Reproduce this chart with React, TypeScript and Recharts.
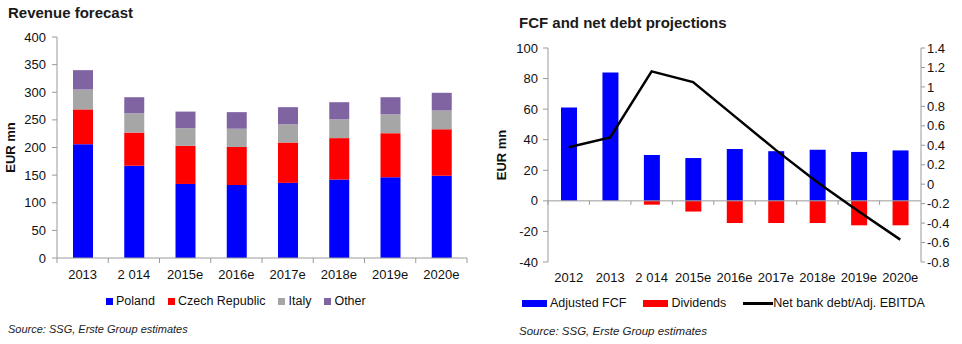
import React from "react";
import {
  BarChart,
  ComposedChart,
  Bar,
  Line,
  XAxis,
  YAxis,
  Legend,
  ReferenceLine,
} from "recharts";

// Revenue forecast (EUR mn)
const revenueYears = ["2013", "2 014", "2015e", "2016e", "2017e", "2018e", "2019e", "2020e"];
const poland = [206, 167, 134, 132, 136, 142, 146, 149];
const czechRepublic = [63, 60, 69, 69, 73, 75, 80, 84];
const italy = [36, 35, 32, 33, 33, 34, 34, 34];
const other = [35, 29, 30, 30, 31, 31, 31, 32];
const revenueTicks = [0, 50, 100, 150, 200, 250, 300, 350, 400];
const revenueSeries = ["Poland", "Czech Republic", "Italy", "Other"];

// FCF and net debt projections
const fcfYears = ["2012", "2013", "2 014", "2015e", "2016e", "2017e", "2018e", "2019e", "2020e"];
const adjustedFcf = [61, 84, 30, 28, 34, 32.5, 33.5, 32, 33];
const dividends = [0, 0, -2.5, -7, -14.5, -14.5, -14.5, -16, -16];
const netDebtEbitda = [0.38, 0.48, 1.16, 1.05, 0.7, 0.35, 0.02, -0.28, -0.57];
const fcfTicks = [-40, -20, 0, 20, 40, 60, 80, 100];
const ratioTicks = [-0.8, -0.6, -0.4, -0.2, 0, 0.2, 0.4, 0.6, 0.8, 1, 1.2, 1.4];
const fcfSeries = ["Adjusted FCF", "Dividends", "Net bank debt/Adj. EBITDA"];

const revenueData = revenueYears.map((year, i) => ({
  year,
  Poland: poland[i],
  "Czech Republic": czechRepublic[i],
  Italy: italy[i],
  Other: other[i],
}));

const fcfData = fcfYears.map((year, i) => ({
  year,
  fcf: adjustedFcf[i],
  div: dividends[i],
  ratio: netDebtEbitda[i],
}));

const FONT = "'Liberation Sans', Arial, sans-serif";
const AXIS_GREY = "#9a9a9a";

// left chart x ticks: label + small boundary marks like Excel
const LEFT_BAND = 410 / 8;
const RevenueTick = (props: any) => {
  const { x, y, payload, index } = props;
  return (
    <g>
      <line x1={x - LEFT_BAND / 2} x2={x - LEFT_BAND / 2} y1={y - 12} y2={y - 7} stroke={AXIS_GREY} />
      {index === revenueYears.length - 1 && (
        <line x1={x + LEFT_BAND / 2} x2={x + LEFT_BAND / 2} y1={y - 12} y2={y - 7} stroke={AXIS_GREY} />
      )}
      <text x={x} y={y} dy="0.71em" textAnchor="middle" fontSize={13} fill="#111" fontFamily={FONT}>
        {payload.value}
      </text>
    </g>
  );
};

// right chart: category ticks sit on the zero line
const RIGHT_BAND = 373 / 9;
const FcfTick = (props: any) => {
  const { x, y, payload } = props;
  const zy = y - 11 - (214 * 40) / 140;
  return (
    <g>
      <line x1={x - RIGHT_BAND / 2} x2={x - RIGHT_BAND / 2} y1={zy} y2={zy + 4} stroke={AXIS_GREY} />
      <text x={x} y={y} dy="0.71em" textAnchor="middle" fontSize={13} fill="#111" fontFamily={FONT}>
        {payload.value}
      </text>
    </g>
  );
};

const byOrder = (order: string[]) => (payload: any[]) =>
  [...(payload || [])].sort((a, b) => order.indexOf(a.value) - order.indexOf(b.value));

const LeftLegend = ({ payload }: any) => (
  <div style={{ display: "flex", fontSize: 12.5, fontFamily: FONT, color: "#111", lineHeight: "15px" }}>
    {byOrder(revenueSeries)(payload).map((p: any) => (
      <span key={p.value} style={{ display: "flex", alignItems: "center", marginRight: 13 }}>
        <span style={{ display: "inline-block", width: 7, height: 7, background: p.color, marginRight: 3 }} />
        {p.value}
      </span>
    ))}
  </div>
);

const RightLegend = ({ payload }: any) => (
  <div style={{ display: "flex", fontSize: 12.5, fontFamily: FONT, color: "#111", lineHeight: "15px" }}>
    {byOrder(fcfSeries)(payload).map((p: any) => (
      <span key={p.value} style={{ display: "flex", alignItems: "center", marginRight: 17 }}>
        {p.type === "line" ? (
          <span style={{ display: "inline-block", width: 30, height: 3, background: p.color }} />
        ) : (
          <span style={{ display: "inline-block", width: 25, height: 7, background: p.color, marginRight: 3 }} />
        )}
        {p.value}
      </span>
    ))}
  </div>
);

const titleStyle: React.CSSProperties = {
  position: "absolute",
  fontFamily: FONT,
  fontWeight: "bold",
  fontSize: 15,
  color: "#1a1a1a",
  whiteSpace: "nowrap",
};

const sourceStyle: React.CSSProperties = {
  position: "absolute",
  fontFamily: FONT,
  fontStyle: "italic",
  fontSize: 11,
  color: "#222",
  whiteSpace: "nowrap",
};

export default function App() {
  return (
    <div style={{ position: "absolute", left: 0, top: 0, width: 962, height: 344, background: "#fff", overflow: "hidden" }}>
      <div style={{ ...titleStyle, left: 8, top: 4 }}>Revenue forecast</div>
      <div style={{ ...titleStyle, left: 519, top: 14 }}>FCF and net debt projections</div>

      <div style={{ position: "absolute", left: 0, top: 0 }}>
        <BarChart width={480} height={344} data={revenueData} margin={{ top: 37, right: 13, left: 0, bottom: 56 }} barSize={20}>
          <XAxis
            dataKey="year"
            height={30}
            stroke={AXIS_GREY}
            tickLine={false}
            tickSize={5}
            tickMargin={7}
            tick={<RevenueTick />}
            interval={0}
          />
          <YAxis
            width={57}
            domain={[0, 400]}
            ticks={revenueTicks}
            interval={0}
            stroke={AXIS_GREY}
            tickSize={5}
            tickMargin={6}
            tick={{ fontSize: 13, fill: "#111", fontFamily: FONT }}
            label={{
              value: "EUR mn",
              angle: -90,
              position: "insideLeft",
              offset: 10,
              style: { textAnchor: "middle", fontWeight: "bold", fontSize: 13, fill: "#111", fontFamily: FONT },
            }}
          />
          <Legend
            verticalAlign="middle"
            content={<LeftLegend />}
            wrapperStyle={{ top: 294, left: 106, width: 360 }}
          />
          <Bar dataKey="Poland" stackId="r" fill="#0000FF" isAnimationActive={false} />
          <Bar dataKey="Czech Republic" stackId="r" fill="#FF0000" isAnimationActive={false} />
          <Bar dataKey="Italy" stackId="r" fill="#A6A6A6" isAnimationActive={false} />
          <Bar dataKey="Other" stackId="r" fill="#8064A2" isAnimationActive={false} />
        </BarChart>
      </div>

      <div style={{ position: "absolute", left: 480, top: 0 }}>
        <ComposedChart
          width={482}
          height={344}
          data={fcfData}
          stackOffset="sign"
          margin={{ top: 48, right: 0, left: 0, bottom: 52 }}
          barSize={16}
        >
          <XAxis
            dataKey="year"
            height={30}
            axisLine={false}
            tickLine={false}
            tickSize={5}
            tickMargin={6}
            tick={<FcfTick />}
            interval={0}
          />
          <YAxis
            yAxisId="left"
            width={68}
            domain={[-40, 100]}
            ticks={fcfTicks}
            interval={0}
            stroke={AXIS_GREY}
            tickSize={5}
            tickMargin={5}
            tick={{ fontSize: 13, fill: "#111", fontFamily: FONT }}
            label={{
              value: "EUR mn",
              angle: -90,
              position: "insideLeft",
              offset: 21,
              style: { textAnchor: "middle", fontWeight: "bold", fontSize: 13, fill: "#111", fontFamily: FONT },
            }}
          />
          <YAxis
            yAxisId="right"
            orientation="right"
            width={41}
            domain={[-0.8, 1.4]}
            ticks={ratioTicks}
            interval={0}
            stroke={AXIS_GREY}
            tickSize={4}
            tickMargin={2}
            tick={{ fontSize: 13, fill: "#111", fontFamily: FONT }}
          />
          <ReferenceLine yAxisId="left" y={0} stroke={AXIS_GREY} />
          <Legend
            verticalAlign="middle"
            content={<RightLegend />}
            wrapperStyle={{ top: 296, left: 42, width: 440 }}
          />
          <Bar yAxisId="left" dataKey="fcf" name="Adjusted FCF" stackId="f" fill="#0000FF" isAnimationActive={false} />
          <Bar yAxisId="left" dataKey="div" name="Dividends" stackId="f" fill="#FF0000" isAnimationActive={false} />
          <Line
            yAxisId="right"
            dataKey="ratio"
            name="Net bank debt/Adj. EBITDA"
            type="linear"
            stroke="#000"
            strokeWidth={2.5}
            dot={false}
            legendType="line"
            isAnimationActive={false}
          />
        </ComposedChart>
      </div>

      <div style={{ ...sourceStyle, left: 8, top: 323 }}>Source: SSG, Erste Group estimates</div>
      <div style={{ ...sourceStyle, left: 519, top: 325, fontSize: 11.5 }}>Source: SSG, Erste Group estimates</div>
    </div>
  );
}
